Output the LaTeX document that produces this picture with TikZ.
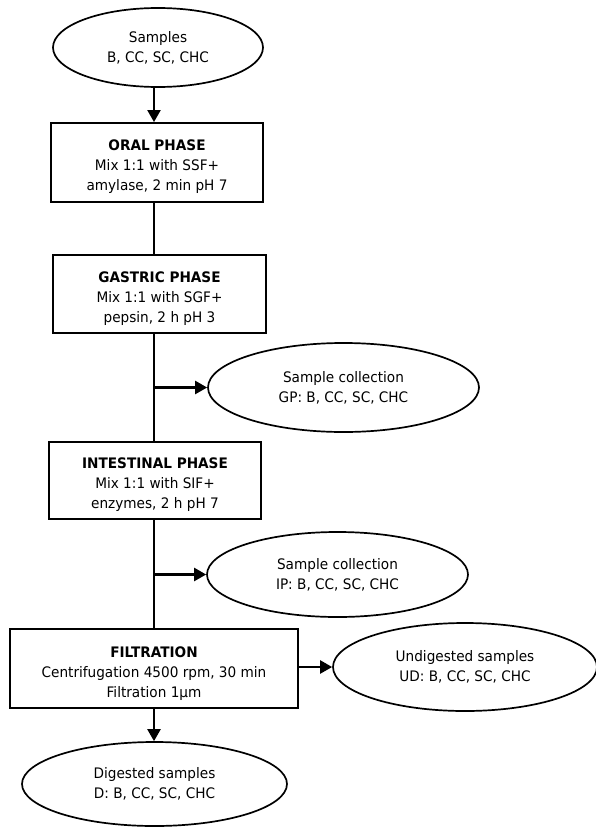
\documentclass[tikz,border=0pt]{standalone}
\usepackage{fontspec}
\setmainfont{DejaVu Sans}[FakeStretch=0.94]
\usetikzlibrary{shapes.geometric,arrows.meta}

\newcommand{\phasetitle}[1]{\rule{0pt}{20pt}\textbf{#1}}

\begin{document}
\begin{tikzpicture}[x=1pt,y=-1pt,
  txt/.style={align=center,inner sep=0pt,font=\fontsize{14.5}{20}\selectfont},
  phase/.style={txt,draw,line width=1.9pt,minimum width=#1,minimum height=79},
  sample/.style={txt,draw,ellipse,line width=1.7pt,minimum width=#1,minimum height=87},
  link/.style={line width=1.5pt},
  arr/.style={line width=2.3pt,-{Triangle[length=12pt,width=13pt]}}]

\useasboundingbox (0,0) rectangle (596,827);
\coordinate (spine) at (154,0);

% main column
\node[sample=210,minimum height=79] (samples) at (158,47.5) {Samples\\B, CC, SC, CHC};
\node[phase=212] (oral) at (157,162.5) {\phasetitle{ORAL PHASE}\\Mix 1:1 with SSF+\\amylase, 2 min pH 7};
\node[phase=213,minimum height=78] (gastric) at (159.5,294) {\phasetitle{GASTRIC PHASE}\\Mix 1:1 with SGF+\\pepsin, 2 h pH 3};
\node[phase=212,minimum height=77] (intestinal) at (155,480.5) {\phasetitle{INTESTINAL PHASE}\\Mix 1:1 with SIF+\\enzymes, 2 h pH 7};
\node[phase=288] (filtration) at (154,668.5) {\phasetitle{FILTRATION}\\Centrifugation 4500 rpm, 30 min\\Filtration 1µm};

% collected samples
\node[sample=271,minimum height=89] (gp) at (343.5,387.5) {Sample collection\\GP: B, CC, SC, CHC};
\node[sample=261,minimum height=85] (ip) at (337.5,574.5) {Sample collection\\IP: B, CC, SC, CHC};
\node[sample=264,minimum height=88] (ud) at (465,667) {Undigested samples\\UD: B, CC, SC, CHC};
\node[sample=265,minimum height=84] (digested) at (154.5,784) {Digested samples\\D: B, CC, SC, CHC};

\draw[arr] (samples.south -| spine) -- (oral.north -| spine);
\draw[link] (oral.south -| spine) -- (gastric.north -| spine);
\draw[link] (gastric.south -| spine) -- (intestinal.north -| spine);
\draw[link] (intestinal.south -| spine) -- (filtration.north -| spine);

\draw[arr] (gp.west -| spine) -- (gp.west);
\draw[arr] (ip.west -| spine) -- (ip.west);
\draw[arr] (filtration.east |- ud.west) -- (ud.west);
\draw[arr] (filtration.south -| spine) -- (digested.north -| spine);

\end{tikzpicture}
\end{document}
